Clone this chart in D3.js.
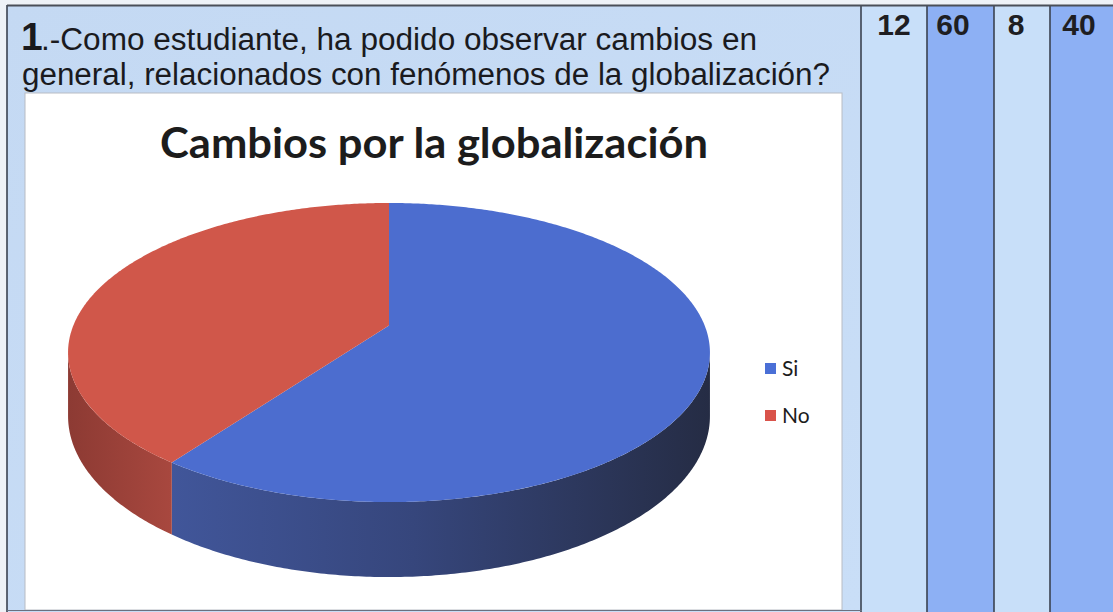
<!DOCTYPE html>
<html>
<head>
<meta charset="utf-8">
<script src="https://cdn.jsdelivr.net/npm/d3@7/dist/d3.min.js"></script>
<style>
  html, body { margin: 0; padding: 0; background: #ffffff; }
  svg { display: block; }
</style>
</head>
<body>
<svg id="chart" width="1113" height="612"></svg>
<script>
// ---- data ----
const categories = ["Si", "No"];
const values = [60, 40];
const tableValues = ["12", "60", "8", "40"];
const chartTitle = "Cambios por la globalización";
const questionNumber = "1";
const questionLines = [
  ".-Como estudiante, ha podido observar cambios en",
  "general, relacionados con fenómenos de la globalización?"
];

// ---- styles ----
const topColors = { "Si": "#4c6dcf", "No": "#d0574a" };
const legendColors = { "Si": "#4a6fd6", "No": "#d9534a" };

const svg = d3.select("#chart");
const W = 1113, H = 612;
const defs = svg.append("defs");

// page background (scan)
svg.append("rect").attr("x", 0).attr("y", 0).attr("width", W).attr("height", H).attr("fill", "#eef2f7");

// question cell background
const cellGrad = defs.append("linearGradient").attr("id", "cellGrad")
  .attr("x1", 0).attr("y1", 0).attr("x2", 1).attr("y2", 1);
cellGrad.append("stop").attr("offset", 0).attr("stop-color", "#c4d9f3");
cellGrad.append("stop").attr("offset", 1).attr("stop-color", "#c9def7");
svg.append("rect").attr("x", 7).attr("y", 5).attr("width", 855).attr("height", H - 5).attr("fill", "url(#cellGrad)");

// table columns
const colEdges = [861, 927, 994, 1050, 1113];
const colFill = ["#c8dff9", "#8db0f4", "#c8dff9", "#8db0f4"];
const colCenters = [894, 953, 1016, 1079];
tableValues.forEach((v, i) => {
  svg.append("rect").attr("x", colEdges[i]).attr("y", 5)
    .attr("width", colEdges[i + 1] - colEdges[i]).attr("height", H - 5)
    .attr("fill", colFill[i]);
  svg.append("text").attr("x", colCenters[i]).attr("y", 35)
    .attr("text-anchor", "middle")
    .attr("font-family", "'Liberation Sans', Arial, sans-serif")
    .attr("font-weight", "bold").attr("font-size", 30)
    .attr("fill", "#1e1e22").text(v);
});
// grid lines
[7, 861, 927, 994, 1050].forEach(x => {
  svg.append("line").attr("x1", x).attr("x2", x).attr("y1", 5).attr("y2", H)
    .attr("stroke", "#3a4250").attr("stroke-width", 1.6);
});
svg.append("line").attr("x1", 7).attr("x2", W).attr("y1", 5.5).attr("y2", 5.5)
  .attr("stroke", "#4a4f58").attr("stroke-width", 1.8);

// question text
const q = svg.append("g").attr("font-family", "'Liberation Sans', Arial, sans-serif").attr("fill", "#1a1a1e");
q.append("text").attr("x", 21).attr("y", 50).attr("font-size", 39).attr("font-weight", "bold").text(questionNumber);
q.append("text").attr("x", 41).attr("y", 50).attr("font-size", 31)
  .attr("textLength", 716).attr("lengthAdjust", "spacingAndGlyphs").text(questionLines[0]);
q.append("text").attr("x", 22).attr("y", 85).attr("font-size", 31)
  .attr("textLength", 808).attr("lengthAdjust", "spacingAndGlyphs").text(questionLines[1]);

// chart area
svg.append("rect").attr("x", 25).attr("y", 93).attr("width", 817).attr("height", 517)
  .attr("fill", "#ffffff").attr("stroke", "#b8bcc4").attr("stroke-width", 1);
svg.append("line").attr("x1", 7).attr("x2", 862).attr("y1", 610.5).attr("y2", 610.5)
  .attr("stroke", "#6a7080").attr("stroke-width", 1.2);

// title
svg.append("text").attr("x", 160).attr("y", 158)
  .attr("font-family", "Lato, 'Open Sans', sans-serif").attr("font-weight", "bold")
  .attr("font-size", 42).attr("fill", "#1c1c1c")
  .attr("textLength", 548).attr("lengthAdjust", "spacingAndGlyphs")
  .text(chartTitle);

// ---- 3D pie with perspective ----
const cx = 389, cy = 325.6, Rx = 315.7, Ry = 144.7, depth = 61.5, k = 0.18;
function proj(theta, h) {
  const X = Math.sin(theta), Y = Math.cos(theta);
  const s = 1 / (1 + k * Y);
  return [cx + Rx * X * s, cy - Ry * Y * s + h * depth * s];
}
const thetaRight = Math.PI / 2 + Math.asin(k);
const thetaLeft = 3 * Math.PI / 2 - Math.asin(k);

const pie = d3.pie().sort(null).startAngle(0).endAngle(2 * Math.PI);
const arcs = pie(values).map((d, i) => Object.assign(d, { cat: categories[i] }));

function sample(a0, a1, h) {
  const n = Math.max(2, Math.ceil(Math.abs(a1 - a0) / 0.01));
  return d3.range(n + 1).map(j => proj(a0 + (a1 - a0) * j / n, h));
}
const line = d3.line();

// side gradients
const sideStops = {
  "Si": [[0, "#41569a"], [0.45, "#36467c"], [1, "#252c44"]],
  "No": [[0, "#8c3a33"], [1, "#a9483f"]]
};
const sideRange = { "Si": [170, 712], "No": [66, 175] };
categories.forEach(c => {
  const g = defs.append("linearGradient").attr("id", "side" + c)
    .attr("gradientUnits", "userSpaceOnUse")
    .attr("x1", sideRange[c][0]).attr("x2", sideRange[c][1]).attr("y1", 0).attr("y2", 0);
  sideStops[c].forEach(s => g.append("stop").attr("offset", s[0]).attr("stop-color", s[1]));
});

const pieG = svg.append("g");
// sides
arcs.forEach(d => {
  const a0 = Math.max(d.startAngle, thetaRight), a1 = Math.min(d.endAngle, thetaLeft);
  if (a1 <= a0) return;
  const pts = sample(a0, a1, 0).concat(sample(a1, a0, 1));
  pieG.append("path").attr("d", line(pts) + "Z")
    .attr("fill", "url(#side" + d.cat + ")");
});
// tops
arcs.forEach(d => {
  const pts = [[cx, cy]].concat(sample(d.startAngle, d.endAngle, 0));
  pieG.append("path").attr("d", line(pts) + "Z").attr("fill", topColors[d.cat]);
});

// legend
const legY = [363, 410];
categories.forEach((c, i) => {
  svg.append("rect").attr("x", 765).attr("y", legY[i]).attr("width", 11).attr("height", 11)
    .attr("fill", legendColors[c]);
  svg.append("text").attr("x", 782).attr("y", legY[i] + 13)
    .attr("font-family", "Lato, 'Open Sans', sans-serif").attr("font-size", 21)
    .attr("fill", "#1c1c1c").text(c);
});
</script>
</body>
</html>
